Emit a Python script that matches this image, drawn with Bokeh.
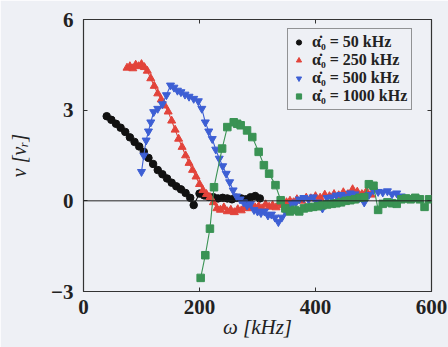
from bokeh.plotting import figure
from bokeh.models import Span, Legend, LegendItem, LinearAxis, FixedTicker, CustomJSTickFormatter
from bokeh.embed import file_html
from bokeh.resources import INLINE

# ---- data ----
w_50 = [40, 48, 56, 64, 72, 80, 88, 96, 104, 112, 120, 128, 136, 144, 152, 160, 168, 176,
        184, 190, 200, 208, 216, 224, 232, 240, 248, 256, 264, 272, 280, 288, 296, 304]
v_50 = [2.80, 2.68, 2.55, 2.42, 2.28, 2.10, 1.95, 1.80, 1.62, 1.42, 1.22, 1.02, 0.88, 0.74, 0.60, 0.48, 0.38, 0.26,
        0.10, -0.14, 0.24, 0.18, 0.13, 0.12, 0.08, 0.10, 0.08, 0.05, 0.10, 0.08, 0.05, 0.12, 0.16, 0.08]

w_250 = [75, 80, 85, 90, 95, 100, 105, 110, 116, 122, 128, 134, 140, 146, 152, 158, 164, 170, 176, 182, 188,
         194, 200, 206, 212, 218, 224, 230, 236, 242, 248, 254, 260, 266, 272, 278, 284, 290, 296, 302, 308,
         314, 320, 326, 332, 338, 344, 350, 356, 362, 368, 376, 384, 392, 400, 408, 416, 424, 432, 440, 448,
         456, 464, 472, 480, 488, 496]
v_250 = [4.40, 4.45, 4.38, 4.50, 4.45, 4.52, 4.42, 4.30, 4.05, 3.80, 3.55, 3.35, 3.15, 2.95, 2.65, 2.35, 2.05,
         1.78, 1.50, 1.25, 1.02, 0.80, 0.55, 0.35, 0.22, 0.12, -0.05, -0.25, -0.30, -0.22, -0.35, -0.30, -0.38,
         -0.28, -0.32, -0.22, -0.25, -0.15, -0.22, -0.18, -0.25, -0.12, -0.20, -0.15, -0.22, -0.10, -0.15, -0.05,
         0.00, -0.05, 0.05, 0.00, 0.10, 0.08, 0.15, 0.10, 0.20, 0.15, 0.22, 0.18, 0.28, 0.22, 0.38, 0.30, 0.22,
         0.32, 0.20]

w_500 = [100, 104, 108, 112, 116, 121, 128, 136, 143, 150, 156, 162, 168, 175, 182, 190, 198, 204, 210, 216,
         222, 228, 234, 240, 246, 252, 258, 264, 270, 276, 282, 288, 294, 300, 306, 312, 318, 324, 330, 336,
         342, 348, 354, 360, 366, 372, 380, 388, 396, 404, 412, 420, 428, 436, 444, 452, 460, 468, 476, 484,
         492, 500, 508, 516, 524, 532, 540, 548]
v_500 = [0.96, 1.50, 2.00, 2.30, 2.60, 2.94, 3.05, 3.20, 3.50, 3.82, 3.75, 3.65, 3.60, 3.52, 3.45, 3.38, 3.30,
         3.05, 2.60, 2.30, 2.05, 1.70, 1.40, 1.15, 0.90, 0.62, 0.35, 0.15, 0.05, -0.05, -0.15, -0.10, -0.30,
         -0.35, -0.40, -0.35, -0.48, -0.45, -0.55, -0.70, -0.55, -0.35, -0.20, -0.10, -0.05, 0.05, 0.10, 0.05,
         0.12, -0.05, -0.25, 0.10, 0.12, 0.18, 0.20, 0.15, 0.25, 0.22, 0.10, -0.05, 0.20, 0.35, 0.30, 0.28,
         0.32, 0.22, 0.25, 0.15]

w_1000 = [202, 210, 218, 225, 239, 248, 259, 265, 271, 282, 291, 302, 311, 320, 331, 340, 348, 356, 364, 372,
          380, 388, 396, 404, 412, 420, 428, 436, 444, 452, 460, 468, 476, 484, 492, 500, 508, 516, 524, 532,
          540, 548, 556, 564, 572, 580, 588, 596]
v_1000 = [-2.55, -1.80, -0.92, 0.45, 1.73, 2.44, 2.60, 2.55, 2.50, 2.33, 2.11, 1.62, 1.18, 0.90, 0.52, 0.02,
          -0.25, -0.35, -0.30, -0.35, -0.25, -0.22, -0.20, -0.18, -0.15, -0.12, -0.10, -0.08, -0.05, 0.00, 0.02,
          0.05, 0.10, 0.12, 0.55, 0.50, -0.30, -0.10, -0.05, -0.08, -0.10, 0.05, 0.08, 0.05, 0.10, 0.05, -0.20,
          0.05]

labels = ["α̇₀ = 50 kHz", "α̇₀ = 250 kHz", "α̇₀ = 500 kHz", "α̇₀ = 1000 kHz"]
x_ticks = [0, 200, 400, 600]
y_ticks = [-3, 0, 3, 6]

BG = "#eef0f5"
SERIF = "Liberation Serif"

p = figure(width=448, height=347, x_range=(0, 600), y_range=(-3, 6),
           output_backend="svg", toolbar_location=None,
           min_border_left=83, min_border_right=17, min_border_top=19, min_border_bottom=56)
p.background_fill_color = BG
p.border_fill_color = BG
p.outline_line_color = "#333333"
p.outline_line_width = 1.2
p.grid.visible = False

zero = Span(location=0, dimension="width", line_color="#222222", line_width=1)
p.add_layout(zero)

p.line(w_50, v_50, line_color="#111111", line_width=1.1)
r1 = p.scatter(w_50, v_50, marker="circle", size=7.5, fill_color="#111111", line_color="#111111")
p.line(w_250, v_250, line_color="#e2433a", line_width=1.1)
r2 = p.scatter(w_250, v_250, marker="triangle", size=8, fill_color="#e2433a", line_color="#e2433a")
p.line(w_500, v_500, line_color="#3d5fd4", line_width=1.1)
r3 = p.scatter(w_500, v_500, marker="inverted_triangle", size=8, fill_color="#3d5fd4", line_color="#3d5fd4")
p.line(w_1000, v_1000, line_color="#3a9354", line_width=1.1)
r4 = p.scatter(w_1000, v_1000, marker="square", size=7.5, fill_color="#3a9354", line_color="#3a9354")

def style_axis(ax):
    ax.major_tick_in = 4
    ax.major_tick_out = 0
    ax.minor_tick_in = 0
    ax.minor_tick_out = 0
    ax.axis_line_color = None
    ax.major_tick_line_color = "#333333"
    ax.major_label_text_font = SERIF
    ax.major_label_text_font_style = "bold"
    ax.major_label_text_font_size = "21px"
    ax.major_label_text_color = "#222222"

p.xaxis.ticker = FixedTicker(ticks=x_ticks)
p.yaxis.ticker = FixedTicker(ticks=y_ticks)
style_axis(p.xaxis[0])
style_axis(p.yaxis[0])
p.xaxis.major_label_standoff = 8
p.yaxis.major_label_standoff = 10
p.yaxis.major_label_overrides = {-3: "−3"}

p.xaxis.axis_label = "ω [kHz]"
p.yaxis.axis_label = "v [vᵣ]"
for ax in (p.xaxis[0], p.yaxis[0]):
    ax.axis_label_text_font = SERIF
    ax.axis_label_text_font_style = "italic"
    ax.axis_label_text_color = "#222222"
p.xaxis.axis_label_text_font_size = "21px"
p.yaxis.axis_label_text_font_size = "20px"
p.xaxis.axis_label_standoff = -2
p.yaxis.axis_label_standoff = 18

blank = CustomJSTickFormatter(code="return ''")
top = LinearAxis(ticker=FixedTicker(ticks=x_ticks), formatter=blank)
style_axis(top)
top.major_label_standoff = 0
top.major_label_text_font_size = "1px"
p.add_layout(top, "above")
right = LinearAxis(ticker=FixedTicker(ticks=y_ticks), formatter=blank)
style_axis(right)
right.major_label_standoff = 0
right.major_label_text_font_size = "1px"
p.add_layout(right, "right")

legend = Legend(items=[LegendItem(label=labels[0], renderers=[r1]),
                       LegendItem(label=labels[1], renderers=[r2]),
                       LegendItem(label=labels[2], renderers=[r3]),
                       LegendItem(label=labels[3], renderers=[r4])],
                location=(204, 181))
legend.margin = 0
legend.padding = 4
legend.spacing = 0
legend.glyph_width = 13
legend.glyph_height = 18
legend.label_height = 18
legend.label_standoff = 7
legend.label_text_font = SERIF
legend.label_text_font_style = "bold"
legend.label_text_font_size = "16px"
legend.label_text_color = "#222222"
legend.border_line_color = "#333333"
legend.border_line_width = 1.2
legend.background_fill_color = BG
legend.background_fill_alpha = 1
p.add_layout(legend)

open("out.html", "w").write(file_html(p, INLINE))
